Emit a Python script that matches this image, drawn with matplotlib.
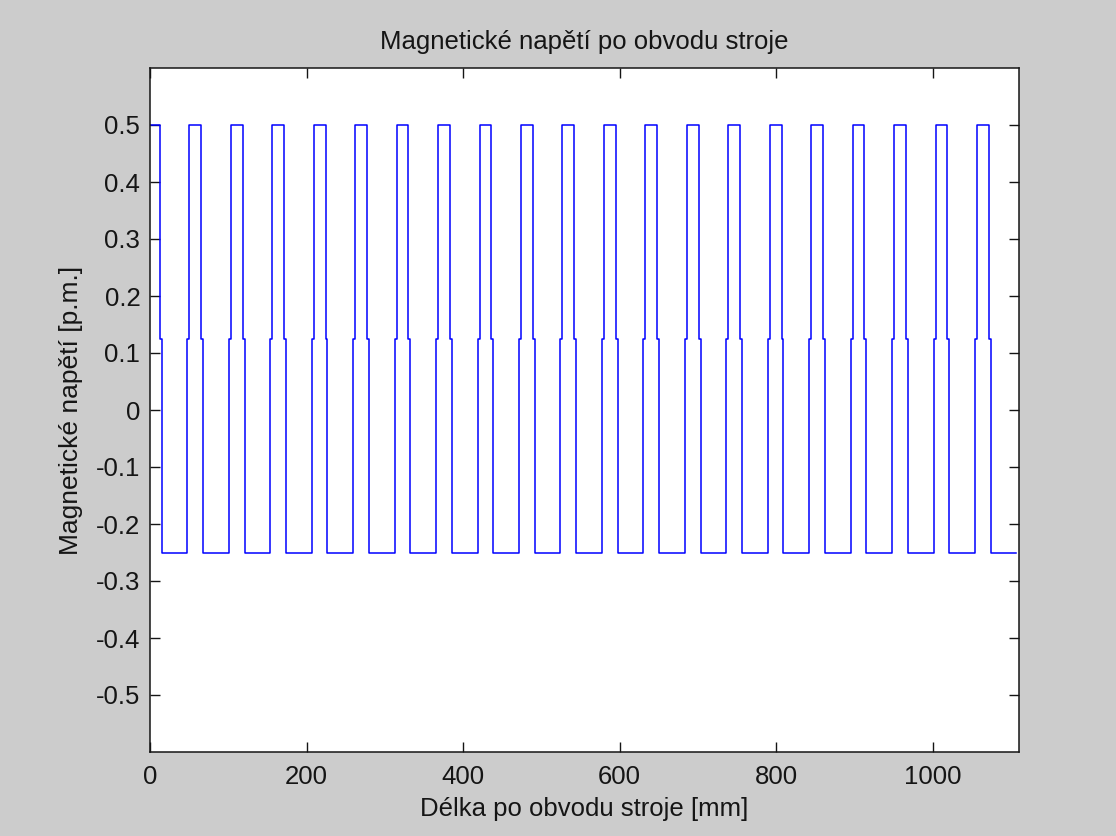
import numpy as np
import matplotlib
matplotlib.use('Agg')
import matplotlib.pyplot as plt

# ------------------------------------------------------------
#  Data (x in mm, levels in p.m.)
# ------------------------------------------------------------
LOW  = -0.25   # bottom level
MID  = 0.125   # small step on every edge
HIGH = 0.5     # top level
X_END = 1106.6 # last point of the curve
X_MAX = 1110.5 # right edge of the axes

# first pulse starts on the axis at x = 0 (already at HIGH)
first_fall_hi = 12.4
first_fall_lo = 14.9

# the remaining 20 pulses: where the line steps up / down
rise_lo = [47.8, 100.8, 153.7, 206.7, 259.7, 312.7, 365.6, 418.6, 471.6, 524.5,
           577.5, 630.5, 683.4, 736.4, 789.4, 842.4, 895.3, 948.3, 1001.3, 1054.2]
rise_hi = [50.3, 103.3, 156.2, 209.2, 262.2, 315.2, 368.1, 421.1, 474.1, 527.0,
           580.0, 633.0, 685.9, 738.9, 791.9, 844.9, 897.8, 950.8, 1003.8, 1056.7]
fall_hi = [65.4, 118.4, 171.3, 224.3, 277.3, 330.3, 383.2, 436.2, 489.2, 542.1,
           595.1, 648.1, 701.0, 754.0, 807.0, 860.0, 912.9, 965.9, 1018.9, 1071.8]
fall_lo = [67.9, 120.9, 173.8, 226.8, 279.8, 332.8, 385.7, 438.7, 491.7, 544.6,
           597.6, 650.6, 703.5, 756.5, 809.5, 862.5, 915.4, 968.4, 1021.4, 1074.3]

xticks = [0, 200, 400, 600, 800, 1000]
yticks = [-0.5, -0.4, -0.3, -0.2, -0.1, 0, 0.1, 0.2, 0.3, 0.4, 0.5]
ytick_labels = ['-0.5', '-0.4', '-0.3', '-0.2', '-0.1', '0',
                '0.1', '0.2', '0.3', '0.4', '0.5']

# build the step curve (steps-post)
xs = [0.0, first_fall_hi, first_fall_lo]
ys = [HIGH, MID, LOW]
for a, b, c, d in zip(rise_lo, rise_hi, fall_hi, fall_lo):
    xs += [a, b, c, d]
    ys += [MID, HIGH, MID, LOW]
xs.append(X_END)
ys.append(LOW)

# ------------------------------------------------------------
#  Plot
# ------------------------------------------------------------
plt.rcParams['font.family'] = ['Liberation Sans', 'DejaVu Sans']
plt.rcParams['axes.unicode_minus'] = False

FS = 18.5
TXT = '#151515'
fig = plt.figure(figsize=(11.16, 8.36), dpi=100, facecolor='#cccccc')
ax = fig.add_axes([150 / 1116, 1 - 752 / 836, 869 / 1116, 684 / 836])
ax.set_facecolor('white')

ax.step(xs, ys, where='post', color='#0000ff', linewidth=1.1)

ax.set_xlim(0, X_MAX)
ax.set_ylim(-0.6, 0.6)
ax.set_xticks(xticks)
ax.set_xticklabels([str(t) for t in xticks])
ax.set_yticks(yticks)
ax.set_yticklabels(ytick_labels)

ax.tick_params(direction='in', length=7.5, width=1.0, colors=TXT,
               labelsize=FS, labelcolor=TXT, top=True, right=True)
ax.tick_params(axis='x', pad=9)
ax.tick_params(axis='y', pad=7)
for spine in ax.spines.values():
    spine.set_color(TXT)
    spine.set_linewidth(1.1)

ax.set_title('Magnetické napětí po obvodu stroje', fontsize=FS, color=TXT, pad=14)
ax.set_xlabel('Délka po obvodu stroje [mm]', fontsize=FS, color=TXT, labelpad=6)
ax.set_ylabel('Magnetické napětí [p.m.]', fontsize=FS + 0.5, color=TXT, labelpad=9)

plt.savefig('out.png', dpi=100, facecolor='#cccccc')
